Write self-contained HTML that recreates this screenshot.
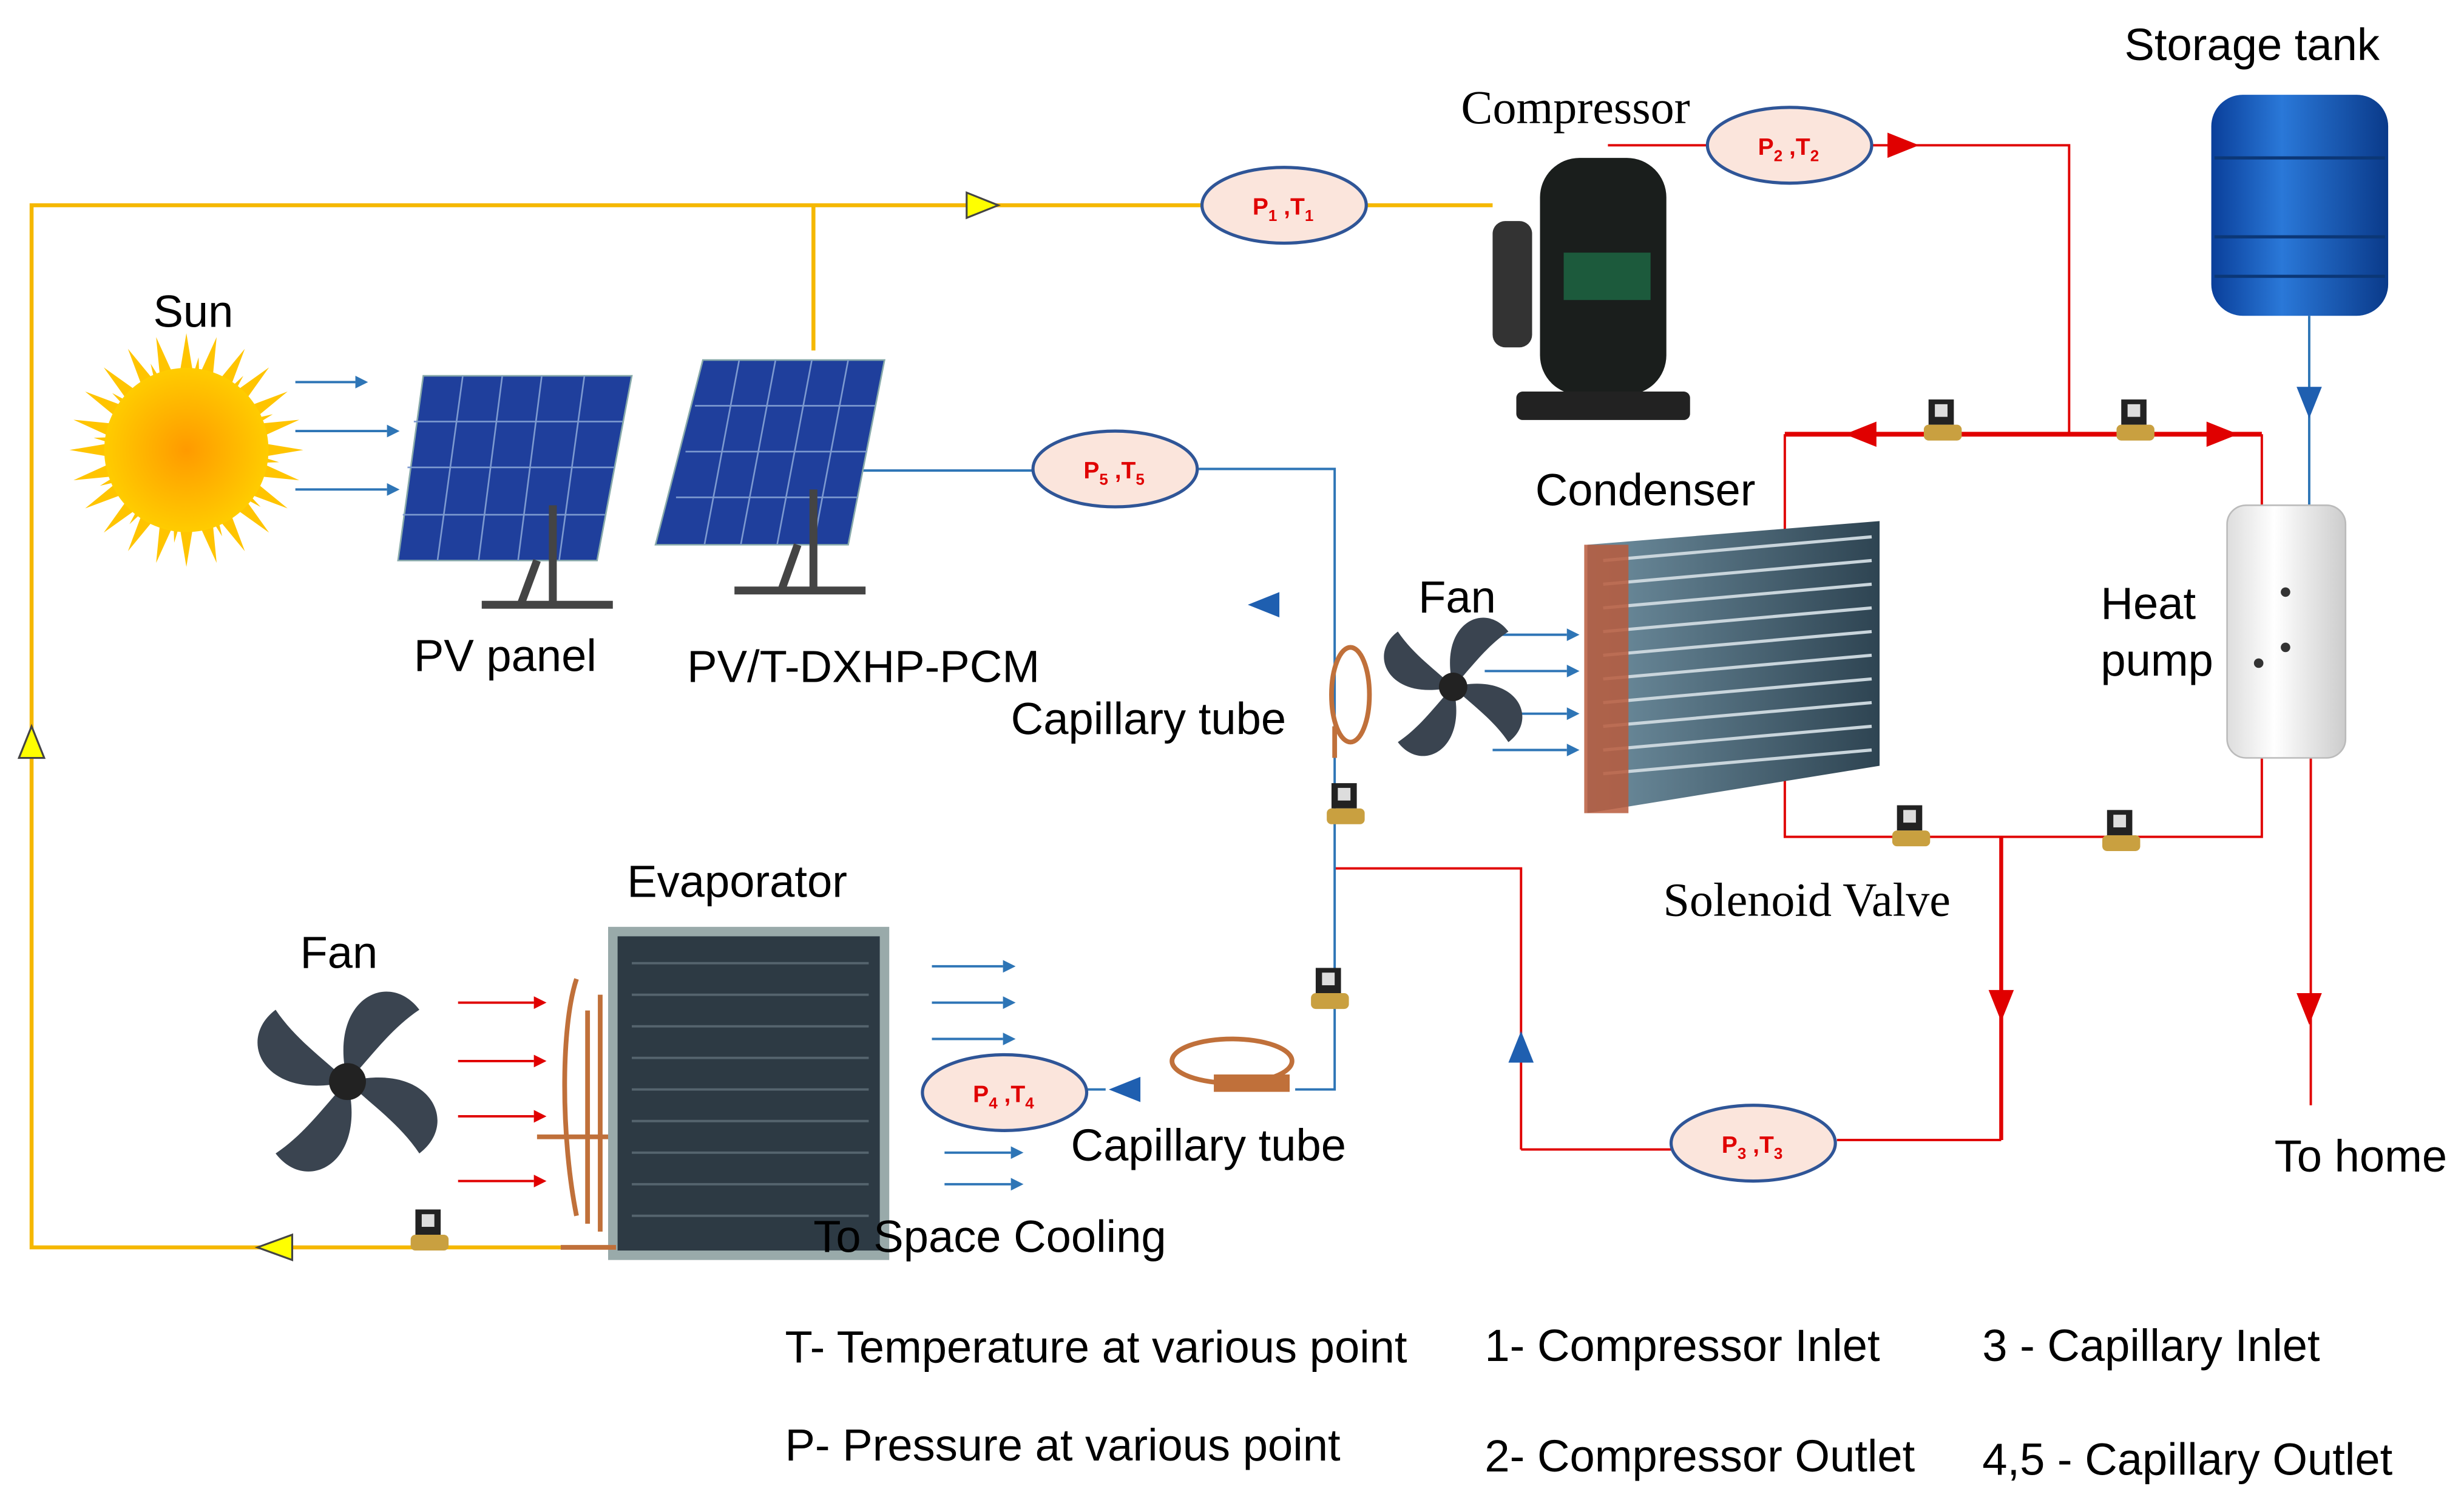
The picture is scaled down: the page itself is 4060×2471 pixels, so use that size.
<!DOCTYPE html>
<html><head><meta charset="utf-8"><style>
html,body{margin:0;padding:0;background:#fff;}
svg{display:block;}
.t{font-family:"Liberation Sans",sans-serif;font-size:28.5px;fill:#000;}
.s{font-family:"Liberation Serif",serif;font-size:30px;fill:#000;}
.p{font-family:"Liberation Sans",sans-serif;font-size:15px;font-weight:bold;fill:#e00000;}
.e{fill:#fbe5dc;stroke:#2f5597;stroke-width:2;}
</style></head><body>
<svg width="4060" height="2471" viewBox="0 0 1560 950" preserveAspectRatio="none" xmlns="http://www.w3.org/2000/svg">
<defs>
<radialGradient id="sg"><stop offset="0" stop-color="#ff9a00"/><stop offset="1" stop-color="#ffcc00"/></radialGradient>
<linearGradient id="cg" x1="0" x2="1"><stop offset="0" stop-color="#6f8fa0"/><stop offset="1" stop-color="#2e4452"/></linearGradient>
<linearGradient id="tk" x1="0" x2="1"><stop offset="0" stop-color="#0a3f9a"/><stop offset=".4" stop-color="#2a78d8"/><stop offset="1" stop-color="#0a3a8a"/></linearGradient>
<linearGradient id="hp" x1="0" x2="1"><stop offset="0" stop-color="#ddd"/><stop offset=".4" stop-color="#fff"/><stop offset="1" stop-color="#ccc"/></linearGradient>
<polygon id="ray" points="-4,-50 0,-74 4,-50" fill="#ffc400"/>
<g id="valve"><rect x="-9" y="-12" width="16" height="16" fill="#222"/><rect x="-5" y="-9" width="8" height="8" fill="#ddd"/><rect x="-12" y="4" width="24" height="10" rx="3" fill="#c9a040"/></g>
<g id="fan" fill="#3a4450"><path d="M0 0 C-10 -40 20 -55 35 -35 C20 -25 10 -10 0 0Z"/><path d="M0 0 C40 -10 55 20 35 35 C25 20 10 10 0 0Z"/><path d="M0 0 C10 40 -20 55 -35 35 C-20 25 -10 10 0 0Z"/><path d="M0 0 C-40 10 -55 -20 -35 -35 C-25 -20 -10 -10 0 0Z"/><circle r="9" fill="#222"/></g>
</defs>

<g stroke="#f5b800" stroke-width="2.5" fill="none">
<path d="M945 130 H20 V790 H355"/><path d="M515 130 V222"/>
</g>
<polygon points="612,122 632,130 612,138" fill="#ff0" stroke="#444" stroke-width="1.2"/>
<polygon points="12,480 20,460 28,480" fill="#ff0" stroke="#444" stroke-width="1.2"/>
<polygon points="185,782 163,790 185,798" fill="#ff0" stroke="#444" stroke-width="1.2"/>

<g stroke="#e00000" stroke-width="1.5" fill="none">
<path d="M1018 92 H1083"/><path d="M1185 92 H1310 V275"/>
<path d="M1130 345 V275"/><path d="M1432 275 V320"/>
<path d="M1130 475 V530 H1432 V475"/>
<path d="M963 728 V550 H845"/><path d="M1463 480 V700"/>
<path d="M963 728 H1058"/><path d="M1163 722 H1267"/>
</g>
<path d="M1130 275 H1432" stroke="#e00000" stroke-width="3" fill="none"/>
<path d="M1267 530 V722" stroke="#e00000" stroke-width="2.5" fill="none"/>
<polygon points="1195,84 1215,92 1195,100" fill="#e00000"/>
<polygon points="1188,267 1168,275 1188,283" fill="#e00000"/>
<polygon points="1397,267 1417,275 1397,283" fill="#e00000"/>
<polygon points="1259,627 1267,647 1275,627" fill="#e00000"/>
<polygon points="1454,629 1462,649 1470,629" fill="#e00000"/>

<g stroke="#2e75b6" stroke-width="1.5" fill="none">
<path d="M525 298 H655"/><path d="M758 297 H845 V690 H820"/>
<path d="M700 690 H600"/><path d="M1462 200 V320"/>
</g>
<polygon points="810,375 790,383 810,391" fill="#1f5fb0"/>
<polygon points="722,682 702,690 722,698" fill="#1f5fb0"/>
<polygon points="955,673 963,653 971,673" fill="#1f5fb0"/>
<polygon points="1454,245 1462,265 1470,245" fill="#1f5fb0"/>

<g stroke="#2e75b6" stroke-width="1.5">
<path d="M187 242 H225"/><path d="M187 273 H245"/><path d="M187 310 H245"/>
<path d="M940 402 H992"/><path d="M940 425 H992"/><path d="M940 452 H992"/><path d="M945 475 H992"/>
<path d="M590 612 H635"/><path d="M590 635 H635"/><path d="M590 658 H635"/><path d="M598 730 H640"/><path d="M598 750 H640"/>
</g>
<g fill="#2e75b6">
<polygon points="225,238 233,242 225,246"/><polygon points="245,269 253,273 245,277"/><polygon points="245,306 253,310 245,314"/>
<polygon points="992,398 1000,402 992,406"/><polygon points="992,421 1000,425 992,429"/><polygon points="992,448 1000,452 992,456"/><polygon points="992,471 1000,475 992,479"/>
<polygon points="635,608 643,612 635,616"/><polygon points="635,631 643,635 635,639"/><polygon points="635,654 643,658 635,662"/><polygon points="640,726 648,730 640,734"/><polygon points="640,746 648,750 640,754"/>
</g>
<g stroke="#e00000" stroke-width="1.5"><path d="M290 635 H338"/><path d="M290 672 H338"/><path d="M290 707 H338"/><path d="M290 748 H338"/></g>
<g fill="#e00000"><polygon points="338,631 346,635 338,639"/><polygon points="338,668 346,672 338,676"/><polygon points="338,703 346,707 338,711"/><polygon points="338,744 346,748 338,752"/></g>

<!-- sun -->
<g transform="translate(118,285)">
<use href="#ray" transform="rotate(0)"/><use href="#ray" transform="rotate(15)"/><use href="#ray" transform="rotate(30)"/><use href="#ray" transform="rotate(45)"/><use href="#ray" transform="rotate(60)"/><use href="#ray" transform="rotate(75)"/><use href="#ray" transform="rotate(90)"/><use href="#ray" transform="rotate(105)"/><use href="#ray" transform="rotate(120)"/><use href="#ray" transform="rotate(135)"/><use href="#ray" transform="rotate(150)"/><use href="#ray" transform="rotate(165)"/><use href="#ray" transform="rotate(180)"/><use href="#ray" transform="rotate(195)"/><use href="#ray" transform="rotate(210)"/><use href="#ray" transform="rotate(225)"/><use href="#ray" transform="rotate(240)"/><use href="#ray" transform="rotate(255)"/><use href="#ray" transform="rotate(270)"/><use href="#ray" transform="rotate(285)"/><use href="#ray" transform="rotate(300)"/><use href="#ray" transform="rotate(315)"/><use href="#ray" transform="rotate(330)"/><use href="#ray" transform="rotate(345)"/>
<g transform="rotate(7.5)"><use href="#ray" transform="rotate(0) scale(.8)"/><use href="#ray" transform="rotate(30) scale(.8)"/><use href="#ray" transform="rotate(60) scale(.8)"/><use href="#ray" transform="rotate(90) scale(.8)"/><use href="#ray" transform="rotate(120) scale(.8)"/><use href="#ray" transform="rotate(150) scale(.8)"/><use href="#ray" transform="rotate(180) scale(.8)"/><use href="#ray" transform="rotate(210) scale(.8)"/><use href="#ray" transform="rotate(240) scale(.8)"/><use href="#ray" transform="rotate(270) scale(.8)"/><use href="#ray" transform="rotate(300) scale(.8)"/><use href="#ray" transform="rotate(330) scale(.8)"/></g>
<circle r="52" fill="url(#sg)"/>
</g>

<polygon points="268,238 400,238 378,355 252,355" fill="#1f3f9c" stroke="#8aa" stroke-width="1"/>
<g stroke="#7d9ad0" stroke-width="1"><path d="M293 238 L277 355 M318 238 L303 355 M343 238 L328 355 M370 238 L354 355 M262 267 H394 M258 296 H389 M255 326 H383"/></g>
<path d="M340 355 L330 382 M350 320 V382 M305 383 H388" stroke="#444" stroke-width="5"/>
<polygon points="445,228 560,228 537,345 415,345" fill="#1f3f9c" stroke="#8aa" stroke-width="1"/>
<g stroke="#7d9ad0" stroke-width="1"><path d="M468 228 L446 345 M491 228 L469 345 M514 228 L492 345 M537 228 L515 345 M440 257 H554 M434 286 H549 M428 315 H543"/></g>
<path d="M505 345 L495 373 M515 310 V373 M465 374 H548" stroke="#444" stroke-width="5"/>

<rect x="975" y="100" width="80" height="150" rx="25" fill="#1a1e1c"/>
<rect x="990" y="160" width="55" height="30" fill="#1c5a3c"/>
<rect x="945" y="140" width="25" height="80" rx="8" fill="#333"/>
<rect x="960" y="248" width="110" height="18" rx="4" fill="#222"/>

<rect x="1400" y="60" width="112" height="140" rx="20" fill="url(#tk)"/>
<g stroke="#0b3777" stroke-width="2"><path d="M1402 100 H1510 M1402 150 H1510 M1402 175 H1510"/></g>

<rect x="1410" y="320" width="75" height="160" rx="12" fill="url(#hp)" stroke="#bbb"/>
<circle cx="1447" cy="375" r="3" fill="#333"/><circle cx="1447" cy="410" r="3" fill="#333"/><circle cx="1430" cy="420" r="3" fill="#333"/>

<polygon points="1005,345 1190,330 1190,485 1005,515" fill="url(#cg)"/>
<g stroke="#c9d5dc" stroke-width="2"><path d="M1015 355 L1185 340 M1015 370 L1185 355 M1015 385 L1185 370 M1015 400 L1185 385 M1015 415 L1185 400 M1015 430 L1185 415 M1015 445 L1185 430 M1015 460 L1185 445 M1015 475 L1185 460 M1015 490 L1185 475"/></g>
<rect x="1003" y="345" width="28" height="170" fill="#b95a3c" opacity=".85"/>

<rect x="388" y="590" width="172" height="205" fill="#2d3a44" stroke="#9aa" stroke-width="6"/>
<g stroke="#55646e" stroke-width="1.5"><path d="M400 610 H550 M400 630 H550 M400 650 H550 M400 670 H550 M400 690 H550 M400 710 H550 M400 730 H550 M400 750 H550 M400 770 H550"/></g>
<g stroke="#c0703a" stroke-width="3" fill="none"><path d="M365 620 C355 650 355 720 365 770 M372 640 V775 M380 630 V780 M340 720 H385 M355 790 H390"/></g>

<use href="#fan" transform="translate(920,435)"/>
<use href="#fan" transform="translate(220,685) scale(1.3)"/>

<g stroke="#c0703a" stroke-width="3" fill="none">
<ellipse cx="855" cy="440" rx="12" ry="30"/><path d="M845 460 V480"/>
<ellipse cx="780" cy="672" rx="38" ry="14"/><rect x="770" y="682" width="45" height="8" fill="#c0703a"/>
</g>

<use href="#valve" transform="translate(852,508)"/>
<use href="#valve" transform="translate(842,625)"/>
<use href="#valve" transform="translate(1230,265)"/>
<use href="#valve" transform="translate(1352,265)"/>
<use href="#valve" transform="translate(1210,522)"/>
<use href="#valve" transform="translate(1343,525)"/>
<use href="#valve" transform="translate(272,778)"/>

<ellipse class="e" cx="813" cy="130" rx="52" ry="24"/>
<text class="p" x="793" y="136">P<tspan font-size="10" dy="4">1</tspan><tspan dy="-4"> ,T</tspan><tspan font-size="10" dy="4">1</tspan></text>
<ellipse class="e" cx="1133" cy="92" rx="52" ry="24"/>
<text class="p" x="1113" y="98">P<tspan font-size="10" dy="4">2</tspan><tspan dy="-4"> ,T</tspan><tspan font-size="10" dy="4">2</tspan></text>
<ellipse class="e" cx="706" cy="297" rx="52" ry="24"/>
<text class="p" x="686" y="303">P<tspan font-size="10" dy="4">5</tspan><tspan dy="-4"> ,T</tspan><tspan font-size="10" dy="4">5</tspan></text>
<ellipse class="e" cx="636" cy="692" rx="52" ry="24"/>
<text class="p" x="616" y="698">P<tspan font-size="10" dy="4">4</tspan><tspan dy="-4"> ,T</tspan><tspan font-size="10" dy="4">4</tspan></text>
<ellipse class="e" cx="1110" cy="724" rx="52" ry="24"/>
<text class="p" x="1090" y="730">P<tspan font-size="10" dy="4">3</tspan><tspan dy="-4"> ,T</tspan><tspan font-size="10" dy="4">3</tspan></text>

<text class="s" x="925" y="78">Compressor</text>
<text class="t" x="1345" y="38">Storage tank</text>
<text class="t" x="97" y="207">Sun</text>
<text class="t" x="262" y="425">PV panel</text>
<text class="t" x="435" y="432">PV/T-DXHP-PCM</text>
<text class="t" x="972" y="320">Condenser</text>
<text class="t" x="898" y="388">Fan</text>
<text class="t" x="1330" y="392">Heat</text>
<text class="t" x="1330" y="428">pump</text>
<text class="t" x="640" y="465">Capillary tube</text>
<text class="t" x="397" y="568">Evaporator</text>
<text class="t" x="190" y="613">Fan</text>
<text class="s" x="1053" y="580">Solenoid Valve</text>
<text class="t" x="678" y="735">Capillary tube</text>
<text class="t" x="515" y="793">To Space Cooling</text>
<text class="t" x="1440" y="742">To home</text>
<text class="t" x="497" y="863">T- Temperature at various point</text>
<text class="t" x="497" y="925">P- Pressure at various point</text>
<text class="t" x="940" y="862">1- Compressor Inlet</text>
<text class="t" x="940" y="932">2- Compressor Outlet</text>
<text class="t" x="1255" y="862">3 - Capillary Inlet</text>
<text class="t" x="1255" y="934">4,5 - Capillary Outlet</text>
</svg>
</body></html>
